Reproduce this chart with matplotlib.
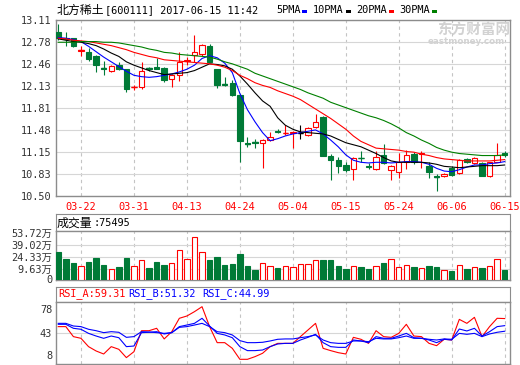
import matplotlib
matplotlib.use('Agg')
import matplotlib.pyplot as plt
from matplotlib.patches import Rectangle

# trading days shown (03-17 .. 06-15)
dates = ['03-17', '03-20', '03-21', '03-22', '03-23', '03-24', '03-27', '03-28', '03-29', '03-30',
         '03-31', '04-05', '04-06', '04-07', '04-10', '04-11', '04-12', '04-13', '04-14', '04-17',
         '04-18', '04-19', '04-20', '04-21', '04-24', '04-25', '04-26', '04-27', '04-28', '05-02',
         '05-03', '05-04', '05-05', '05-08', '05-09', '05-10', '05-11', '05-12', '05-15', '05-16',
         '05-17', '05-18', '05-19', '05-22', '05-23', '05-24', '05-25', '05-26', '05-31', '06-01',
         '06-02', '06-05', '06-06', '06-07', '06-08', '06-09', '06-12', '06-13', '06-14', '06-15']
tick_labels = ['03-22', '03-31', '04-13', '04-24', '05-04', '05-15', '05-24', '06-06', '06-15']

opens = [12.93, 12.85, 12.84, 12.655, 12.64, 12.57, 12.40, 12.35, 12.44, 12.38,
         12.11, 12.11, 12.40, 12.41, 12.40, 12.24, 12.29, 12.50, 12.59, 12.61,
         12.72, 12.38, 12.16, 12.17, 12.00, 11.28, 11.30, 11.29, 11.33, 11.47,
         11.43, 11.43, 11.44, 11.41, 11.52, 11.67, 11.10, 11.03, 10.96, 10.90,
         11.07, 10.95, 10.90, 11.11, 10.89, 10.85, 11.01, 11.12, 11.12, 10.95,
         10.79, 10.79, 10.91, 10.84, 11.05, 10.99, 10.99, 10.79, 11.01, 11.14]
highs = [13.05, 12.93, 12.85, 12.73, 12.70, 12.59, 12.50, 12.44, 12.49, 12.39,
         12.15, 12.48, 12.42, 12.55, 12.41, 12.31, 12.63, 12.56, 12.89, 12.76,
         12.76, 12.39, 12.26, 12.22, 12.01, 11.38, 11.35, 11.34, 11.45, 11.49,
         11.56, 11.47, 11.56, 11.52, 11.71, 11.68, 11.12, 11.08, 11.01, 11.08,
         11.16, 10.99, 11.17, 11.27, 10.96, 11.14, 11.18, 11.15, 11.16, 11.00,
         10.83, 10.84, 10.94, 11.05, 11.06, 11.08, 11.01, 11.01, 11.29, 11.16]
lows = [12.82, 12.72, 12.71, 12.57, 12.50, 12.34, 12.30, 12.34, 12.37, 12.04,
        12.07, 12.09, 12.36, 12.38, 12.19, 12.11, 12.21, 12.45, 12.48, 12.58,
        12.48, 12.10, 12.13, 11.99, 11.01, 11.22, 11.21, 10.92, 11.32, 11.43,
        11.40, 11.21, 11.35, 11.39, 11.51, 11.09, 10.74, 10.84, 10.86, 10.74,
        11.01, 10.90, 10.89, 10.98, 10.74, 10.76, 10.90, 10.97, 10.91, 10.76,
        10.58, 10.78, 10.79, 10.82, 10.99, 10.98, 10.79, 10.78, 11.00, 11.08]
closes = [12.84, 12.83, 12.73, 12.665, 12.53, 12.45, 12.39, 12.43, 12.38, 12.09,
          12.12, 12.36, 12.39, 12.39, 12.22, 12.30, 12.49, 12.52, 12.63, 12.74,
          12.49, 12.15, 12.15, 12.00, 11.31, 11.27, 11.29, 11.33, 11.38, 11.45,
          11.44, 11.45, 11.44, 11.51, 11.60, 11.10, 11.04, 10.95, 10.89, 11.06,
          11.06, 10.93, 11.08, 10.99, 10.95, 11.00, 11.11, 11.00, 11.14, 10.86,
          10.78, 10.83, 10.81, 11.03, 11.00, 11.06, 10.80, 11.00, 11.11, 11.11]

ma5 = [12.85, 12.84, 12.82, 12.79, 12.72, 12.64, 12.56, 12.49, 12.42, 12.35,
       12.29, 12.27, 12.26, 12.27, 12.29, 12.31, 12.34, 12.38, 12.44, 12.54,
       12.58, 12.55, 12.47, 12.33, 12.02, 11.78, 11.60, 11.44, 11.32, 11.35,
       11.39, 11.42, 11.44, 11.46, 11.48, 11.42, 11.33, 11.23, 11.11, 11.03,
       11.00, 10.99, 11.00, 11.00, 10.99, 11.00, 11.01, 11.01, 11.00, 10.97,
       10.91, 10.87, 10.86, 10.89, 10.93, 10.96, 10.96, 10.98, 10.99, 11.01]
ma10 = [12.83, 12.81, 12.79, 12.78, 12.76, 12.73, 12.68, 12.62, 12.57, 12.49,
        12.44, 12.40, 12.36, 12.33, 12.30, 12.31, 12.32, 12.33, 12.36, 12.41,
        12.46, 12.45, 12.43, 12.38, 12.28, 12.16, 12.03, 11.91, 11.83, 11.66,
        11.55, 11.49, 11.45, 11.44, 11.43, 11.42, 11.39, 11.34, 11.29, 11.26,
        11.23, 11.18, 11.13, 11.07, 11.02, 11.00, 11.00, 11.00, 11.00, 10.99,
        10.97, 10.94, 10.93, 10.92, 10.93, 10.94, 10.95, 10.95, 10.95, 10.96]
ma20 = [12.84, 12.83, 12.81, 12.80, 12.79, 12.77, 12.75, 12.73, 12.70, 12.67,
        12.63, 12.60, 12.57, 12.55, 12.52, 12.51, 12.50, 12.49, 12.48, 12.47,
        12.46, 12.44, 12.41, 12.36, 12.29, 12.24, 12.18, 12.14, 12.11, 12.06,
        12.02, 11.98, 11.93, 11.86, 11.79, 11.72, 11.65, 11.57, 11.49, 11.39,
        11.31, 11.26, 11.21, 11.20, 11.19, 11.18, 11.16, 11.15, 11.12, 11.10,
        11.07, 11.05, 11.04, 11.03, 11.02, 11.02, 11.02, 11.02, 11.03, 11.04]
ma30 = [12.78, 12.78, 12.78, 12.79, 12.79, 12.79, 12.78, 12.78, 12.77, 12.75,
        12.73, 12.71, 12.68, 12.66, 12.63, 12.62, 12.60, 12.59, 12.58, 12.57,
        12.56, 12.53, 12.49, 12.46, 12.42, 12.38, 12.32, 12.28, 12.24, 12.20,
        12.16, 12.12, 12.08, 12.03, 11.99, 11.95, 11.89, 11.85, 11.81, 11.77,
        11.73, 11.69, 11.66, 11.62, 11.57, 11.51, 11.44, 11.39, 11.33, 11.28,
        11.22, 11.18, 11.15, 11.13, 11.12, 11.11, 11.10, 11.10, 11.10, 11.11]

# volume in 万 (10k shares)
volumes = [30.8, 21.9, 17.4, 13.3, 18.2, 23.1, 14.5, 9.3, 12.1, 23.1,
           13.3, 20.3, 10.9, 18.2, 14.5, 17.0, 32.5, 21.5, 48.5, 30.1,
           20.6, 24.3, 14.5, 15.7, 28.0, 13.3, 8.8, 16.6, 13.3, 10.5,
           12.9, 11.7, 15.7, 15.7, 20.6, 20.6, 20.6, 13.3, 9.6, 13.3,
           12.1, 9.6, 13.3, 17.4, 21.5, 11.7, 14.5, 12.1, 10.9, 13.3,
           12.1, 8.4, 7.2, 14.5, 9.6, 12.1, 10.9, 13.3, 21.5, 8.4]

rsi_a = [50.2, 50.2, 38.9, 37.0, 27.6, 22.7, 19.3, 27.6, 24.6, 15.2,
         21.9, 45.6, 45.6, 48.3, 36.3, 44.5, 59.6, 62.2, 67.1, 72.7,
         50.2, 32.1, 32.1, 25.7, 13.3, 13.3, 16.3, 20.1, 27.6, 31.3,
         31.3, 31.3, 38.9, 46.4, 53.9, 25.7, 23.1, 20.8, 19.3, 38.1,
         35.9, 31.3, 45.6, 38.9, 38.1, 42.6, 52.8, 39.6, 38.9, 31.3,
         28.7, 35.9, 35.1, 58.4, 53.9, 60.7, 38.9, 50.2, 59.6, 59.3]
rsi_b = [52.8, 52.8, 48.3, 47.2, 42.6, 39.6, 37.0, 39.6, 37.7, 27.6,
         28.3, 43.4, 43.8, 44.5, 41.9, 43.4, 50.2, 52.0, 53.9, 59.6,
         50.9, 42.6, 40.8, 37.7, 27.6, 23.1, 23.1, 23.8, 27.6, 30.6,
         31.3, 31.3, 35.1, 38.1, 41.5, 32.1, 27.6, 26.8, 26.8, 35.1,
         34.0, 32.1, 38.9, 37.0, 37.0, 39.6, 42.6, 37.7, 37.0, 35.1,
         32.1, 35.9, 35.1, 47.5, 45.3, 48.3, 39.6, 44.5, 50.2, 51.3]
rsi_c = [53.9, 53.9, 50.9, 50.2, 47.2, 45.6, 43.4, 44.5, 43.8, 38.1,
         38.9, 44.5, 44.1, 43.4, 42.6, 43.4, 49.4, 50.2, 52.0, 53.9,
         50.2, 44.5, 43.4, 40.8, 34.4, 32.1, 32.1, 32.5, 34.0, 35.9,
         36.3, 36.3, 37.7, 38.9, 40.8, 35.1, 32.1, 31.3, 31.3, 34.0,
         34.0, 33.2, 37.0, 36.3, 36.3, 37.7, 39.6, 37.0, 37.0, 35.9,
         35.1, 36.3, 35.9, 42.6, 41.5, 42.6, 38.9, 41.9, 43.8, 45.0]

price_ticks = [10.50, 10.83, 11.15, 11.48, 11.81, 12.13, 12.46, 12.78, 13.11]
vol_ticks = [9.63, 24.33, 39.02, 53.72]
vol_labels = ['9.63万', '24.33万', '39.02万', '53.72万']

RED = '#ff0000'
GREEN = '#007a37'
BLUE = '#0000ff'
FRAME = '#8c8c8c'
MONO = 'DejaVu Sans Mono'
CJK = 'Noto Sans CJK SC'

plt.rcParams['font.family'] = [MONO, CJK]

W, H = 520, 365
fig = plt.figure(figsize=(W / 100, H / 100), dpi=100)


def px_box(x0, y0, x1, y1):
    return [x0 / W, 1 - y1 / H, (x1 - x0) / W, (y1 - y0) / H]


def fy(y):
    return 1 - y / H


n = len(dates)
xs = list(range(n))
tick_pos = [dates.index(d) for d in tick_labels]


def style(ax):
    for s in ax.spines.values():
        s.set_color(FRAME)
        s.set_linewidth(1)
    ax.tick_params(length=0, labelsize=7.4, labelcolor='#333333', pad=3)
    ax.set_xlim(-0.3, n - 0.3)
    ax.set_xticks(tick_pos)
    ax.grid(axis='x', color='#c4c4c4', linestyle=(0, (3, 3)), linewidth=0.8)
    ax.grid(axis='y', color='#d6d6d6', linestyle='-', linewidth=0.8)
    ax.set_axisbelow(True)


def side_label(ax, text, v, dy):
    ax.annotate(text, xy=(0, v), xycoords=('axes fraction', 'data'),
                xytext=(-2.2, dy), textcoords='offset points', ha='right',
                va='center', fontsize=7.4, color='#333333')


# ---- price panel ----
ax_k = fig.add_axes(px_box(56, 20, 510, 196))
style(ax_k)
ax_k.set_ylim(price_ticks[0], price_ticks[-1])
ax_k.set_yticks(price_ticks)
ax_k.set_yticklabels(['%.2f' % t for t in price_ticks])
ax_k.set_xticklabels(tick_labels)
ax_k.tick_params(axis='x', labelcolor=RED, pad=4)

cols, faces, bots, hts = [], [], [], []
for o, c in zip(opens, closes):
    if c == o:
        col = 'black'
    elif c > o:
        col = RED
    else:
        col = GREEN
    cols.append(col)
    faces.append('white' if c >= o else col)
    bots.append(min(o, c))
    hts.append(abs(c - o))

ax_k.vlines(xs, lows, highs, colors=cols, linewidth=0.8, zorder=2)
ax_k.bar(xs, hts, bottom=bots, width=0.72, color=faces, edgecolor=cols,
         linewidth=0.8, zorder=3)
doji = [i for i in xs if hts[i] < 0.015]
ax_k.hlines([(opens[i] + closes[i]) / 2 for i in doji],
            [i - 0.36 for i in doji], [i + 0.36 for i in doji],
            colors=[cols[i] for i in doji], linewidth=1.0, zorder=4)

ax_k.plot(xs, ma5, color=BLUE, lw=0.8, zorder=5)
ax_k.plot(xs, ma10, color='black', lw=0.8, zorder=5)
ax_k.plot(xs, ma20, color=RED, lw=0.8, zorder=5)
ax_k.plot(xs, ma30, color='#008000', lw=0.8, zorder=5)

# title and legend row
fig.text(57 / W, fy(10), '北方稀土', family=CJK, fontsize=8.6, va='center')
fig.text(105 / W, fy(10), '[600111] 2017-06-15 11:42', family=MONO, fontsize=7.4, va='center')
for label, x0, col in [('5PMA', 276, BLUE), ('10PMA', 313, 'black'),
                       ('20PMA', 356, RED), ('30PMA', 399, '#008000')]:
    fig.text(x0 / W, fy(10), label, family=MONO, fontsize=7.4, va='center')
    sq_x = x0 + 6.1 * len(label) + 2
    fig.add_artist(Rectangle((sq_x / W, fy(12.5)), 5 / W, 3 / H,
                             transform=fig.transFigure, color=col, lw=0))

# watermark
fig.text(474 / W, fy(30), '东方财富网', family=CJK, fontsize=10.5, weight='bold',
         color='#d2d2d2', ha='center', va='center', zorder=0)
fig.text(466 / W, fy(41.5), 'eastmoney.com', family='DejaVu Sans', fontsize=6.3,
         weight='bold', color='#d2d2d2', ha='center', va='center', zorder=0)

# ---- volume panel ----
ax_vt = fig.add_axes(px_box(56, 214, 510, 231))
ax_vt.set_xticks([])
ax_vt.set_yticks([])
for s in ax_vt.spines.values():
    s.set_color(FRAME)
fig.text(57 / W, fy(223), '成交量', family=CJK, fontsize=8.6, va='center')
fig.text(93 / W, fy(223), ':75495', family=MONO, fontsize=7.4, va='center')

ax_v = fig.add_axes(px_box(56, 231, 510, 280))
style(ax_v)
vol_floor = -3.84
ax_v.set_ylim(vol_floor, 56.17)
ax_v.set_yticks(vol_ticks)
ax_v.set_yticklabels(vol_labels)
ax_v.set_xticklabels([])
side_label(ax_v, '0', vol_floor, 0)
vcols = [RED if c >= o else GREEN for o, c in zip(opens, closes)]
vfaces = ['white' if c >= o else GREEN for o, c in zip(opens, closes)]
ax_v.bar(xs, [v - vol_floor for v in volumes], bottom=vol_floor, width=0.72,
         color=vfaces, edgecolor=vcols, linewidth=0.8, zorder=3)
ax_v.get_ygridlines()[-1].set_visible(False)

# ---- RSI panel ----
ax_rt = fig.add_axes(px_box(56, 287, 510, 302))
ax_rt.set_xticks([])
ax_rt.set_yticks([])
for s in ax_rt.spines.values():
    s.set_color(FRAME)
fig.text(58 / W, fy(294), 'RSI_A:59.31', family=MONO, fontsize=7.4, color=RED, va='center')
fig.text(128 / W, fy(294), 'RSI_B:51.32', family=MONO, fontsize=7.4, color=BLUE, va='center')
fig.text(202 / W, fy(294), 'RSI_C:44.99', family=MONO, fontsize=7.4, color=BLUE, va='center')

ax_r = fig.add_axes(px_box(56, 302, 510, 364))
style(ax_r)
ax_r.set_ylim(8, 78)
ax_r.set_yticks([43])
ax_r.set_yticklabels(['43'])
ax_r.set_xticklabels([])
side_label(ax_r, '78', 78, -5.8)
side_label(ax_r, '8', 8, 6.1)
ax_r.plot(xs, rsi_a, color=RED, lw=0.8, zorder=3)
ax_r.plot(xs, rsi_b, color=BLUE, lw=0.8, zorder=3)
ax_r.plot(xs, rsi_c, color=BLUE, lw=0.8, zorder=3)

fig.savefig('out.png', dpi=100, facecolor='white')
